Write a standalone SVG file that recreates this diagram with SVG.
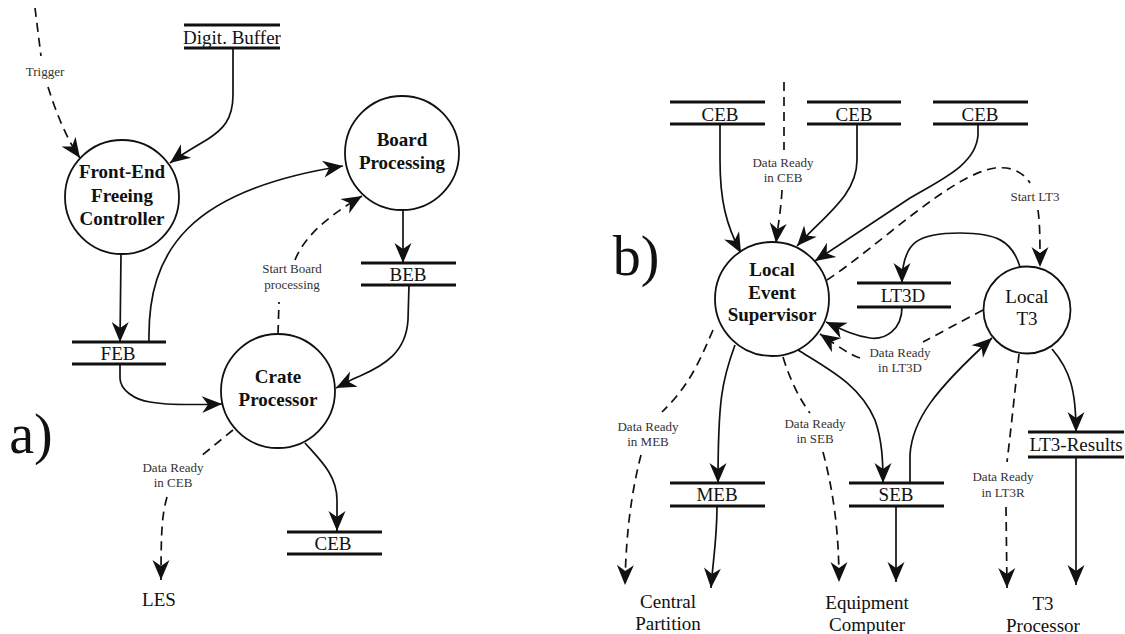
<svg xmlns="http://www.w3.org/2000/svg" width="1125" height="634" viewBox="0 0 1125 634">
<defs>
<marker id="ah" markerUnits="userSpaceOnUse" markerWidth="21" markerHeight="17" refX="20" refY="8.5" orient="auto" overflow="visible">
<path d="M0,0 L20,8.5 L0,17 L6,8.5 Z" fill="#111"/>
</marker>
<style>
.c{fill:#fff;stroke:#111;stroke-width:1.8}
.s{stroke:#111;stroke-width:3.2}
.e{fill:none;stroke:#111;stroke-width:1.7}
.d{fill:none;stroke:#111;stroke-width:1.7;stroke-dasharray:9 6}
.a{marker-end:url(#ah)}
text{font-family:"Liberation Serif","Times New Roman",serif;fill:#111;text-anchor:middle}
.b{font-weight:bold;font-size:19px}
.n{font-size:19px}
.l{font-size:13px;fill:#333}
.big{font-size:56px}
</style>
</defs>
<rect width="1125" height="634" fill="#fff"/>

<g id="connectors">
<path class="d" d="M35,8 L41,56"/>
<path class="d a" d="M48,87 C56,112 66,138 80,158"/>
<path class="e a" d="M233,49 L233,95 C233,120 222,130 208,139 C195,147 182,154 170,163"/>
<path class="e a" d="M121,254 L120,342"/>
<path class="e a" d="M149,342 C147,250 190,190 343,166"/>
<path class="d" d="M278,334 L279,302"/>
<path class="d a" d="M295,260 C305,235 330,215 362,196"/>
<path class="e a" d="M403,210 L403,263"/>
<path class="e a" d="M409,285 L408,320 C406,352 385,365 360,376 C350,380 344,384 336,388"/>
<path class="e a" d="M120,364 L120,378 C120,390 135,400 150,402 C165,405 190,405 222,404"/>
<path class="d" d="M233,430 L200,457"/>
<path class="d a" d="M167,497 C162,515 161,530 161,580"/>
<path class="e a" d="M305,443 C320,460 337,475 337,500 L337,531"/>
<path class="d" d="M784,82 L784,150"/>
<path class="d a" d="M782,190 C781,210 778,225 776,243"/>
<path class="e a" d="M720,124 L720,160 C720,200 726,225 741,253"/>
<path class="e a" d="M857,124 L857,160 C857,195 825,215 797,246"/>
<path class="e a" d="M978,124 L978,135 C976,165 940,180 910,198 L815,261"/>
<path class="d" d="M827,280 C880,245 950,175 995,168 C1015,166 1025,175 1030,183"/>
<path class="d a" d="M1038,210 C1040,225 1040,240 1040,267"/>
<path class="e a" d="M1020,267 C1012,240 995,233 960,233 C920,233 902,240 902,283"/>
<path class="e a" d="M902,307 C902,330 885,340 870,338 C855,336 843,330 826,322"/>
<path class="d" d="M983,310 L923,342"/>
<path class="d a" d="M860,358 C850,355 838,346 820,334"/>
<path class="d" d="M713,330 C700,360 690,385 662,412"/>
<path class="d a" d="M641,455 C632,490 626,530 625,585"/>
<path class="e a" d="M735,345 C722,380 718,400 718,483"/>
<path class="e a" d="M717,506 C717,540 713,560 711,588"/>
<path class="d" d="M783,357 C790,380 800,400 810,413"/>
<path class="d a" d="M823,452 C833,490 839,530 839,582"/>
<path class="e a" d="M798,350 C830,370 860,385 875,420 C882,440 883,460 883,483"/>
<path class="e a" d="M896,506 L896,582"/>
<path class="e a" d="M910,483 L910,455 C912,420 935,390 992,338"/>
<path class="d" d="M1019,354 C1015,390 1012,420 1007,462"/>
<path class="d a" d="M1006,507 L1007,588"/>
<path class="e a" d="M1052,349 C1070,370 1076,390 1076,432"/>
<path class="e a" d="M1076,457 L1076,585"/>
</g>

<g id="connector-labels">
<text class="l" x="45" y="76">Trigger</text>
<text class="l" x="292" y="273">Start Board</text>
<text class="l" x="292" y="289">processing</text>
<text class="l" x="173" y="472">Data Ready</text>
<text class="l" x="173" y="487">in CEB</text>
<text class="l" x="783" y="167">Data Ready</text>
<text class="l" x="783" y="182">in CEB</text>
<text class="l" x="1035" y="201">Start LT3</text>
<text class="l" x="900" y="357">Data Ready</text>
<text class="l" x="900" y="372">in LT3D</text>
<text class="l" x="648" y="431">Data Ready</text>
<text class="l" x="648" y="446">in MEB</text>
<text class="l" x="815" y="428">Data Ready</text>
<text class="l" x="815" y="443">in SEB</text>
<text class="l" x="1003" y="481">Data Ready</text>
<text class="l" x="1003" y="497">in LT3R</text>
</g>

<g id="panel-labels">
<text class="big" x="31" y="453">a)</text>
<text class="big" x="636" y="275">b)</text>
</g>

<g id="digit-buffer">
<line class="s" x1="184" y1="25" x2="280" y2="25"/><line class="s" x1="184" y1="48" x2="280" y2="48"/>
<text class="n" x="232" y="44">Digit. Buffer</text>
</g>
<g id="fefc">
<circle class="c" cx="122" cy="197" r="57"/>
<text class="b" x="122" y="178">Front-End</text>
<text class="b" x="122" y="202">Freeing</text>
<text class="b" x="122" y="225">Controller</text>
</g>
<g id="board-processing">
<circle class="c" cx="402" cy="153" r="57"/>
<text class="b" x="402" y="146">Board</text>
<text class="b" x="402" y="169">Processing</text>
</g>
<g id="feb">
<line class="s" x1="72" y1="342" x2="166" y2="342"/><line class="s" x1="72" y1="364" x2="166" y2="364"/>
<text class="n" x="118" y="360">FEB</text>
</g>
<g id="beb">
<line class="s" x1="361" y1="263" x2="456" y2="263"/><line class="s" x1="361" y1="285" x2="456" y2="285"/>
<text class="n" x="408" y="281">BEB</text>
</g>
<g id="crate-processor">
<circle class="c" cx="278" cy="391" r="57"/>
<text class="b" x="278" y="383">Crate</text>
<text class="b" x="278" y="406">Processor</text>
</g>
<g id="ceb-a">
<line class="s" x1="287" y1="532" x2="382" y2="532"/><line class="s" x1="287" y1="554" x2="382" y2="554"/>
<text class="n" x="333" y="550">CEB</text>
</g>
<g id="les-a">
<text class="n" x="159" y="606">LES</text>
</g>
<g id="ceb1">
<line class="s" x1="670" y1="102" x2="765" y2="102"/><line class="s" x1="670" y1="124" x2="765" y2="124"/>
<text class="n" x="720" y="121">CEB</text>
</g>
<g id="ceb2">
<line class="s" x1="807" y1="102" x2="901" y2="102"/><line class="s" x1="807" y1="124" x2="901" y2="124"/>
<text class="n" x="854" y="121">CEB</text>
</g>
<g id="ceb3">
<line class="s" x1="933" y1="102" x2="1028" y2="102"/><line class="s" x1="933" y1="124" x2="1028" y2="124"/>
<text class="n" x="980" y="121">CEB</text>
</g>
<g id="les">
<circle class="c" cx="772" cy="299" r="57"/>
<text class="b" x="772" y="276">Local</text>
<text class="b" x="772" y="299">Event</text>
<text class="b" x="772" y="321">Supervisor</text>
</g>
<g id="lt3d">
<line class="s" x1="857" y1="283" x2="951" y2="283"/><line class="s" x1="857" y1="307" x2="951" y2="307"/>
<text class="n" x="903" y="302">LT3D</text>
</g>
<g id="local-t3">
<circle class="c" cx="1027" cy="310" r="43.5"/>
<text class="n" x="1027" y="303">Local</text>
<text class="n" x="1027" y="325">T3</text>
</g>
<g id="meb">
<line class="s" x1="670" y1="483" x2="765" y2="483"/><line class="s" x1="670" y1="506" x2="765" y2="506"/>
<text class="n" x="717" y="501">MEB</text>
</g>
<g id="seb">
<line class="s" x1="849" y1="483" x2="944" y2="483"/><line class="s" x1="849" y1="506" x2="944" y2="506"/>
<text class="n" x="896" y="501">SEB</text>
</g>
<g id="lt3-results">
<line class="s" x1="1028" y1="432" x2="1124" y2="432"/><line class="s" x1="1028" y1="457" x2="1124" y2="457"/>
<text class="n" x="1076" y="451">LT3-Results</text>
</g>
<g id="central-partition">
<text class="n" x="668" y="608">Central</text>
<text class="n" x="668" y="630">Partition</text>
</g>
<g id="equipment-computer">
<text class="n" x="867" y="609">Equipment</text>
<text class="n" x="867" y="631">Computer</text>
</g>
<g id="t3-processor">
<text class="n" x="1043" y="610">T3</text>
<text class="n" x="1043" y="632">Processor</text>
</g>
</svg>
